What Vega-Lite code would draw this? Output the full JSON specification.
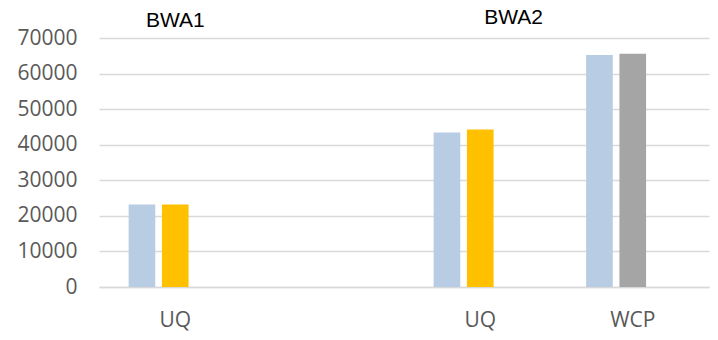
{
  "$schema": "https://vega.github.io/schema/vega-lite/v6.json",
  "autosize": {"type": "none"},
  "padding": {"left": 99, "top": 38, "right": 9, "bottom": 53},
  "width": 610,
  "height": 249,
  "background": "white",
  "config": {"view": {"stroke": null}},
  "datasets": {
    "bars": [
      {"cat": "1_UQ", "slot": "a", "series": "s1", "value": 23200},
      {"cat": "1_UQ", "slot": "b", "series": "s2", "value": 23200},
      {"cat": "3_UQ", "slot": "a", "series": "s1", "value": 43400},
      {"cat": "3_UQ", "slot": "b", "series": "s2", "value": 44300},
      {"cat": "4_WCP", "slot": "a", "series": "s1", "value": 65250},
      {"cat": "4_WCP", "slot": "b", "series": "s3", "value": 65550}
    ],
    "labels": [
      {"cat": "1_UQ", "slot": "b", "label": "BWA1", "value": 74700},
      {"cat": "3_UQ", "slot": "c", "label": "BWA2", "value": 75600}
    ]
  },
  "encoding": {
    "x": {
      "field": "cat", "type": "nominal",
      "scale": {"domain": ["1_UQ", "2_", "3_UQ", "4_WCP"], "paddingInner": 0, "paddingOuter": 0},
      "axis": {
        "title": null, "labelAngle": 0, "ticks": false, "domain": true,
        "domainColor": "#D9D9D9", "domainWidth": 1.5,
        "labelExpr": "slice(datum.value, 2)",
        "labelFont": "Open Sans", "labelFontSize": 21, "labelColor": "#595959",
        "labelPadding": 22, "labelOverlap": false
      }
    },
    "xOffset": {
      "field": "slot", "type": "nominal",
      "scale": {"domain": ["a", "b", "c"], "paddingInner": 0.2, "paddingOuter": 0.89}
    },
    "y": {
      "field": "value", "type": "quantitative",
      "scale": {"domain": [0, 70000], "nice": false},
      "axis": {
        "title": null, "values": [0, 10000, 20000, 30000, 40000, 50000, 60000, 70000],
        "format": "d", "ticks": false, "domain": false,
        "grid": true, "gridColor": "#D9D9D9", "gridWidth": 1.5,
        "labelFont": "Open Sans", "labelFontSize": 21, "labelColor": "#595959",
        "labelPadding": 22, "labelOverlap": false, "labelFlush": false, "labelBound": false
      }
    }
  },
  "layer": [
    {
      "data": {"name": "bars"},
      "mark": {"type": "bar"},
      "encoding": {
        "color": {
          "field": "series", "type": "nominal",
          "scale": {"domain": ["s1", "s2", "s3"], "range": ["#B8CCE4", "#FFC000", "#A5A5A5"]},
          "legend": null
        }
      }
    },
    {
      "data": {"name": "labels"},
      "mark": {"type": "text", "font": "Liberation Sans", "fontSize": 21, "color": "#000000", "baseline": "middle", "align": "center"},
      "encoding": {
        "text": {"field": "label"}
      }
    }
  ]
}
